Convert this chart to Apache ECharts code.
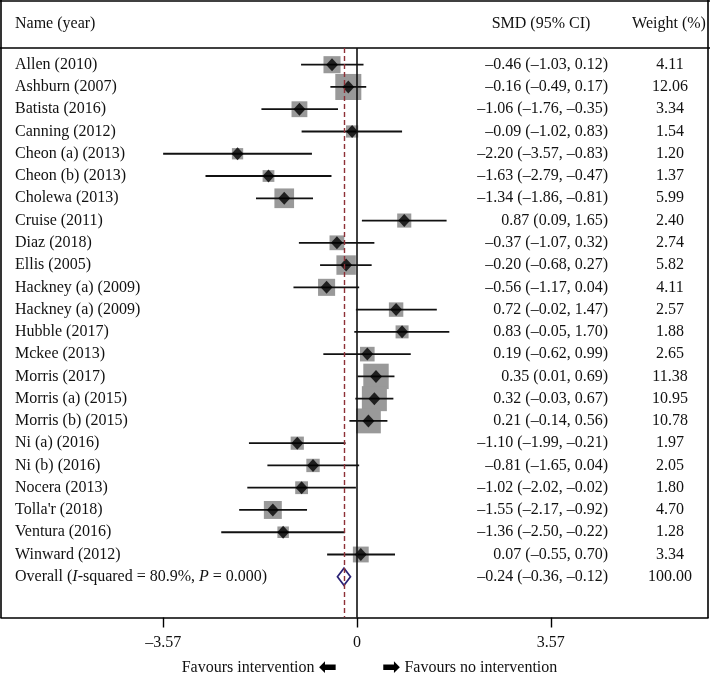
<!DOCTYPE html>
<html><head><meta charset="utf-8">
<script src="https://cdn.jsdelivr.net/npm/echarts@6/dist/echarts.min.js"></script>
<style>html,body{margin:0;padding:0;background:#fff}#c{width:710px;height:674px}</style>
</head><body><div id="c"></div>
<script>
// ---- data ----
const names = ["Allen (2010)", "Ashburn (2007)", "Batista (2016)", "Canning (2012)", "Cheon (a) (2013)", "Cheon (b) (2013)", "Cholewa (2013)", "Cruise (2011)", "Diaz (2018)", "Ellis (2005)", "Hackney (a) (2009)", "Hackney (a) (2009)", "Hubble (2017)", "Mckee (2013)", "Morris (2017)", "Morris (a) (2015)", "Morris (b) (2015)", "Ni (a) (2016)", "Ni (b) (2016)", "Nocera (2013)", "Tolla'r (2018)", "Ventura (2016)", "Winward (2012)"];
const smd = [-0.46, -0.16, -1.06, -0.09, -2.20, -1.63, -1.34, 0.87, -0.37, -0.20, -0.56, 0.72, 0.83, 0.19, 0.35, 0.32, 0.21, -1.10, -0.81, -1.02, -1.55, -1.36, 0.07];
const lo = [-1.03, -0.49, -1.76, -1.02, -3.57, -2.79, -1.86, 0.09, -1.07, -0.68, -1.17, -0.02, -0.05, -0.62, 0.01, -0.03, -0.14, -1.99, -1.65, -2.02, -2.17, -2.50, -0.55];
const hi = [0.12, 0.17, -0.35, 0.83, -0.83, -0.47, -0.81, 1.65, 0.32, 0.27, 0.04, 1.47, 1.70, 0.99, 0.69, 0.67, 0.56, -0.21, 0.04, -0.02, -0.92, -0.22, 0.70];
const weight = [4.11, 12.06, 3.34, 1.54, 1.20, 1.37, 5.99, 2.40, 2.74, 5.82, 4.11, 2.57, 1.88, 2.65, 11.38, 10.95, 10.78, 1.97, 2.05, 1.80, 4.70, 1.28, 3.34];
const overallEst = -0.24, overallLo = -0.36, overallHi = -0.12, overallWeight = 100.00;
const overallI2 = "80.9%", overallP = "0.000";
const tickValues = [-3.57, 0, 3.57];
const headers = ["Name (year)", "SMD (95% CI)", "Weight (%)"];
const favours = ["Favours intervention", "Favours no intervention"];

// ---- layout / style ----
const FONT = '"Liberation Serif", "Times New Roman", serif';
const FS = 16;
const NAME_X = 15, SMD_RIGHT_X = 608, WEIGHT_CX = 670;
const fmt = v => (v < 0 ? '\u2013' : '') + Math.abs(v).toFixed(2);
const ciText = (e, l, h) => `${fmt(e)} (${fmt(l)}, ${fmt(h)})`;
const nStudies = names.length;
const overallRow = nStudies;

const chart = echarts.init(document.getElementById('c'), null, {renderer: 'canvas'});

const studyPts = names.map((n, i) => [smd[i], i, weight[i]]);
const ciData = names.map((n, i) => [lo[i], hi[i], i]);
const textRows = names.map((n, i) => ({value: [0, i], name: n, ci: ciText(smd[i], lo[i], hi[i]), w: weight[i].toFixed(2)}));
textRows.push({value: [0, overallRow], name: 'overall', ci: ciText(overallEst, overallLo, overallHi), w: overallWeight.toFixed(2)});

const arrowRich = {a: {fontFamily: '"DejaVu Sans"', fontSize: 22, fill: '#000', fontWeight: 'bold'}};

const option = {
  animation: false,
  backgroundColor: '#fff',
  grid: {left: 1, right: 2, top: 48, bottom: 56.5, outerBoundsMode: 'none', containLabel: false},
  xAxis: {
    type: 'value', min: -6.556, max: 6.464,
    splitLine: {show: false},
    axisLine: {show: true, onZero: false, lineStyle: {color: '#000', width: 1.6}},
    axisTick: {show: true, customValues: tickValues, length: 10, lineStyle: {color: '#000', width: 1.4}},
    axisLabel: {show: true, customValues: tickValues, margin: 17, fontFamily: FONT, fontSize: FS, color: '#111',
      formatter: v => (Math.abs(v) < 1e-9 ? '0' : fmt(v))}
  },
  yAxis: {type: 'value', inverse: true, min: -0.75, max: 24.83, show: false},
  graphic: [
    {type: 'line', shape: {x1: 0, y1: 1, x2: 710, y2: 1}, style: {stroke: '#000', lineWidth: 1.6}},
    {type: 'line', shape: {x1: 1, y1: 0, x2: 1, y2: 618}, style: {stroke: '#000', lineWidth: 1.6}},
    {type: 'line', shape: {x1: 708, y1: 0, x2: 708, y2: 618}, style: {stroke: '#000', lineWidth: 1.6}},
    {type: 'line', shape: {x1: 0, y1: 48, x2: 710, y2: 48}, style: {stroke: '#000', lineWidth: 1.6}},
    {type: 'text', x: NAME_X, y: 24, style: {text: headers[0], font: `${FS}px ${FONT}`, fill: '#111', textAlign: 'left', textVerticalAlign: 'middle'}},
    {type: 'text', x: 541, y: 24, style: {text: headers[1], font: `${FS}px ${FONT}`, fill: '#111', textAlign: 'center', textVerticalAlign: 'middle'}},
    {type: 'text', x: 669, y: 24, style: {text: headers[2], font: `${FS}px ${FONT}`, fill: '#111', textAlign: 'center', textVerticalAlign: 'middle'}},
    {type: 'text', x: 337, y: 668, style: {text: favours[0] + ' {a|\u2B05}', font: `${FS}px ${FONT}`, fill: '#111', textAlign: 'right', textVerticalAlign: 'middle', rich: arrowRich}},
    {type: 'text', x: 382, y: 668, style: {text: '{a|\u27A1} ' + favours[1], font: `${FS}px ${FONT}`, fill: '#111', textAlign: 'left', textVerticalAlign: 'middle', rich: arrowRich}}
  ],
  series: [
    {
      type: 'scatter', name: 'weights', data: studyPts, symbol: 'rect',
      symbolSize: v => 4.5 + 6.2 * Math.sqrt(v[2]),
      itemStyle: {color: '#999999', opacity: 1}, z: 2, silent: true,
      markLine: {
        silent: true, symbol: ['none', 'none'], label: {show: false}, animation: false,
        data: [
          {xAxis: 0, lineStyle: {color: '#111', width: 1.6, type: 'solid'}},
          {xAxis: overallEst, lineStyle: {color: '#8e3036', width: 1.4, type: [5, 3]}}
        ]
      }
    },
    {
      type: 'custom', name: 'ci', data: ciData, z: 3, silent: true, clip: false,
      encode: {x: [0, 1], y: 2},
      renderItem: (params, api) => {
        const a = api.coord([api.value(0), api.value(2)]);
        const b = api.coord([api.value(1), api.value(2)]);
        return {type: 'line', shape: {x1: a[0], y1: a[1], x2: b[0], y2: b[1]}, style: {stroke: '#111', lineWidth: 1.8}};
      }
    },
    {
      type: 'scatter', name: 'est', data: studyPts, symbol: 'diamond', symbolSize: [12, 13],
      itemStyle: {color: '#000'}, z: 4, silent: true
    },
    {
      type: 'custom', name: 'overall', data: [[overallLo, overallHi, overallEst, overallRow]], z: 4, silent: true, clip: false,
      encode: {x: [0, 1], y: 3},
      renderItem: (params, api) => {
        const l = api.coord([api.value(0), api.value(3)]);
        const h = api.coord([api.value(1), api.value(3)]);
        const c = api.coord([api.value(2), api.value(3)]);
        const hh = 8.5;
        return {type: 'polygon', shape: {points: [[l[0], l[1]], [c[0], c[1] - hh], [h[0], h[1]], [c[0], c[1] + hh]]},
          style: {fill: 'none', stroke: '#2a2275', lineWidth: 1.7}};
      }
    },
    {
      type: 'custom', name: 'text', data: textRows, z: 5, silent: true, clip: false,
      encode: {x: 0, y: 1},
      renderItem: (params, api) => {
        const row = textRows[params.dataIndex];
        const y = api.coord([0, api.value(1)])[1];
        const font = `${FS}px ${FONT}`;
        const nameEl = row.name === 'overall'
          ? {type: 'text', x: NAME_X, y: y, style: {text: 'Overall ({i|I}-squared = ' + overallI2 + ', {i|P} = ' + overallP + ')', font: font, fill: '#111', textAlign: 'left', textVerticalAlign: 'middle',
              rich: {i: {fontStyle: 'italic', fontFamily: FONT, fontSize: FS, fill: '#111'}}}}
          : {type: 'text', x: NAME_X, y: y, style: {text: row.name, font: font, fill: '#111', textAlign: 'left', textVerticalAlign: 'middle'}};
        return {type: 'group', children: [
          nameEl,
          {type: 'text', x: SMD_RIGHT_X, y: y, style: {text: row.ci, font: font, fill: '#111', textAlign: 'right', textVerticalAlign: 'middle'}},
          {type: 'text', x: WEIGHT_CX, y: y, style: {text: row.w, font: font, fill: '#111', textAlign: 'center', textVerticalAlign: 'middle'}}
        ]};
      }
    }
  ]
};
chart.setOption(option);
</script>
</body></html>
